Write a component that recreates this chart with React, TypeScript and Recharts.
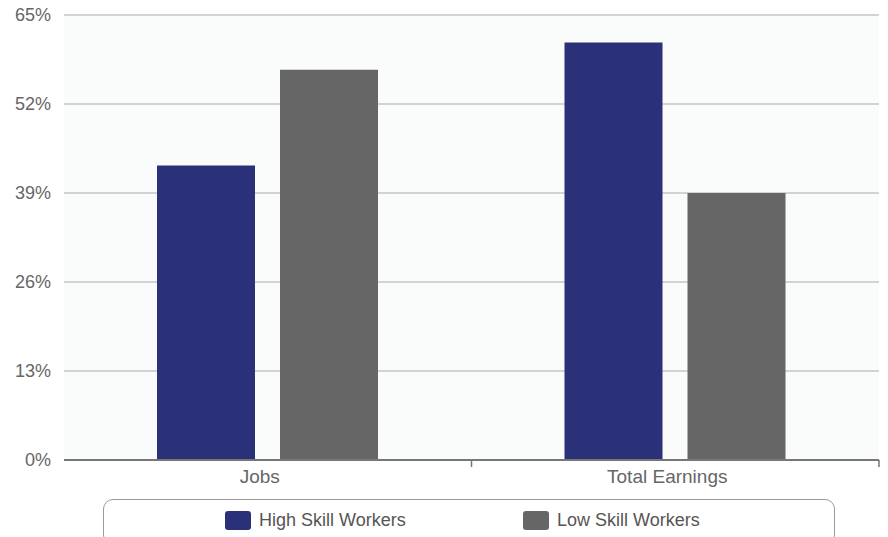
import { BarChart, Bar, XAxis, YAxis, CartesianGrid, Legend } from 'recharts';

const categories = ['Jobs', 'Total Earnings'];
const highSkill = [43, 61];
const lowSkill = [57, 39];
const yTicks = [0, 13, 26, 39, 52, 65];

const seriesNames = ['High Skill Workers', 'Low Skill Workers'];
const seriesColors = ['#2b3178', '#666666'];

const WIDTH = 888;
const HEIGHT = 537;
const Y_AXIS_WIDTH = 64;
const RIGHT = 9;
// half of one category band, used for the boundary tick marks
const HALF_BAND = (WIDTH - Y_AXIS_WIDTH - RIGHT) / categories.length / 2;

const FONT = '"Liberation Sans", Arial, sans-serif';

const data = categories.map((name, i) => ({
  name,
  high: highSkill[i],
  low: lowSkill[i],
}));

function CategoryTick(props: any) {
  const { x, y, payload } = props;
  return (
    <g>
      <line x1={x + HALF_BAND} x2={x + HALF_BAND} y1={y} y2={y + 7} stroke="#777" strokeWidth={1.5} />
      <text
        x={x - 8}
        y={y + 23}
        textAnchor="middle"
        fill="#666"
        fontSize={19}
        fontFamily={FONT}
      >
        {payload.value}
      </text>
    </g>
  );
}

function LegendBox() {
  return (
    <div style={{ position: 'relative', height: 38, width: 732 }}>
      <div
        style={{
          position: 'absolute',
          left: 0,
          top: 0,
          width: 732,
          height: 46,
          border: '1.5px solid #999',
          borderRadius: 10,
          boxSizing: 'border-box',
        }}
      />
      {seriesNames.map((n, i) => (
        <div
          key={n}
          style={{
            position: 'absolute',
            left: 122 + i * 298,
            top: 11,
            display: 'flex',
            alignItems: 'center',
            fontFamily: FONT,
            fontSize: 18,
            color: '#555',
          }}
        >
          <span
            style={{
              display: 'inline-block',
              width: 26,
              height: 19,
              borderRadius: 3,
              background: seriesColors[i],
              marginRight: 8,
            }}
          />
          {n}
        </div>
      ))}
    </div>
  );
}

export default function App() {
  return (
    <div
      style={{
        position: 'absolute',
        left: 0,
        top: 0,
        width: WIDTH,
        height: HEIGHT,
        overflow: 'hidden',
        background: '#fff',
      }}
    >
      <BarChart
        width={WIDTH}
        height={HEIGHT}
        data={data}
        margin={{ top: 15, right: RIGHT, left: 0, bottom: 0 }}
        barSize={98}
        barGap={25}
      >
        <CartesianGrid vertical={false} stroke="#c6c6c6" strokeWidth={1.5} fill="#fafbfb" />
        <YAxis
          width={Y_AXIS_WIDTH}
          domain={[0, 65]}
          ticks={yTicks}
          tickFormatter={(v) => `${v}%`}
          axisLine={false}
          tickLine={false}
          tickSize={0}
          tickMargin={13}
          tick={{ fill: '#666', fontSize: 18, fontFamily: FONT }}
        />
        <XAxis
          dataKey="name"
          height={39}
          axisLine={{ stroke: '#777', strokeWidth: 2 }}
          tickLine={false}
          tickSize={0}
          tickMargin={0}
          tick={<CategoryTick />}
        />
        <Legend
          verticalAlign="bottom"
          content={() => <LegendBox />}
          wrapperStyle={{ left: 103, width: 732, height: 38 }}
        />
        <Bar dataKey="high" name={seriesNames[0]} fill={seriesColors[0]} isAnimationActive={false} />
        <Bar dataKey="low" name={seriesNames[1]} fill={seriesColors[1]} isAnimationActive={false} />
      </BarChart>
    </div>
  );
}
